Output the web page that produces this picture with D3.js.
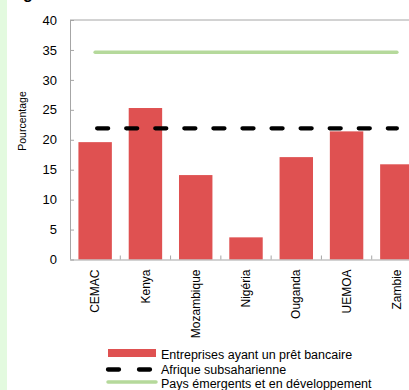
<!DOCTYPE html>
<html><head><meta charset="utf-8">
<script src="https://cdn.jsdelivr.net/npm/d3@7"></script>
<style>body{margin:0;background:#fff}svg{display:block;font-family:"Liberation Sans",Arial,sans-serif}</style>
</head><body>
<svg id="c" width="409" height="390"></svg>
<script>
const categories = ["CEMAC","Kenya","Mozambique","Nigéria","Ouganda","UEMOA","Zambie"];
const loans = [19.6, 25.3, 14.1, 3.7, 17.1, 21.4, 15.9];
const ssaAvg = 21.9;
const emdeAvg = 34.6;
const yTicks = [0,5,10,15,20,25,30,35,40];
const legendLabels = ["Entreprises ayant un prêt bancaire","Afrique subsaharienne","Pays émergents et en développement"];

const svg = d3.select("#c");
svg.append("rect").attr("x",0).attr("y",0).attr("width",7).attr("height",390).attr("fill","#e3fadf");
svg.append("text").attr("x",23).attr("y",-1.5).attr("font-size",16).attr("font-weight","bold").text("g");

const x = d3.scaleBand().domain(categories).range([70,422]).paddingInner(0.335).paddingOuter(0.1675);
const y = d3.scaleLinear().domain([0,40]).range([259.5,20]);
const grey = "#a6a6a6";

// frame
svg.append("line").attr("x1",70).attr("x2",422).attr("y1",y(40)).attr("y2",y(40)).attr("stroke",grey);
// bars
svg.selectAll("rect.bar").data(loans).join("rect").attr("class","bar")
  .attr("x",(d,i)=>x(categories[i])).attr("width",x.bandwidth())
  .attr("y",d=>y(d)).attr("height",d=>y(0)-y(d)).attr("fill","#df5151");

// y axis
const ya = svg.append("g").attr("transform","translate(70,0)")
  .call(d3.axisRight(y).tickValues(yTicks).tickSize(4).tickFormat(d3.format("d")));
ya.select(".domain").attr("stroke",grey);
ya.selectAll(".tick line").attr("stroke",grey);
ya.selectAll(".tick text").attr("x",-13).attr("text-anchor","end").attr("font-size",13).attr("fill","#000");
ya.select(".domain").attr("d","M0.5,20V259.5");

// x axis
const xa = svg.append("g").attr("transform",`translate(0,${y(0)})`)
  .call(d3.axisBottom(x).tickSize(0).tickSizeOuter(0));
xa.select(".domain").attr("stroke",grey);
xa.selectAll(".tick text").attr("transform","rotate(-90)").attr("x",-10).attr("y",0).attr("dy","0.35em")
  .attr("text-anchor","end").attr("font-size",12).attr("fill","#000");
// between-category ticks
const bounds = categories.slice(1).map(c => x(c) - x.step()*x.paddingInner()/2);
svg.selectAll("line.sep").data(bounds).join("line").attr("class","sep")
  .attr("x1",d=>d).attr("x2",d=>d).attr("y1",y(0)).attr("y2",y(0)-4).attr("stroke",grey);

// reference lines
const xc0 = x(categories[0]) + x.bandwidth()/2, xc1 = x(categories[categories.length-1]) + x.bandwidth()/2;
svg.append("line").attr("x1",xc0).attr("x2",xc1).attr("y1",y(emdeAvg)).attr("y2",y(emdeAvg))
  .attr("stroke","#b5d99b").attr("stroke-width",3.5).attr("stroke-linecap","round");
svg.append("line").attr("x1",xc0+2).attr("x2",xc1).attr("y1",y(ssaAvg)).attr("y2",y(ssaAvg))
  .attr("stroke","#000").attr("stroke-width",4.3).attr("stroke-linecap","round").attr("stroke-dasharray","11 18.07");

// y title
svg.append("text").attr("transform","translate(26,121) rotate(-90)").attr("text-anchor","middle")
  .attr("font-size",10.5).text("Pourcentage");

// legend
const lg = svg.append("g");
lg.append("rect").attr("x",108).attr("y",349).attr("width",48).attr("height",8).attr("fill","#df5151");
lg.append("line").attr("x1",108).attr("x2",156).attr("y1",369.5).attr("y2",369.5).attr("stroke","#000")
  .attr("stroke-width",4.3).attr("stroke-linecap","round").attr("stroke-dasharray","11 20");
lg.append("line").attr("x1",108).attr("x2",156).attr("y1",382).attr("y2",382).attr("stroke","#b5d99b")
  .attr("stroke-width",3.5).attr("stroke-linecap","round");
lg.selectAll("text").data(legendLabels).join("text").attr("x",161).attr("y",(d,i)=>359+i*14.6)
  .attr("font-size",12.5).text(d=>d);
</script>
</body></html>
